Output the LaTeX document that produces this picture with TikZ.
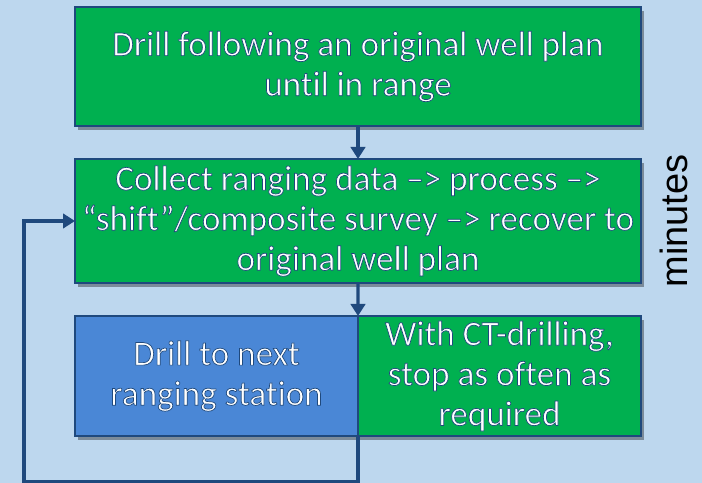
\documentclass[tikz,border=0pt]{standalone}
\usepackage{fontspec}
\setmainfont{Carlito}[Ligatures={NoCommon}]
\newfontfamily\minfont{Liberation Sans}
\usetikzlibrary{arrows.meta, shadows}

\definecolor{bgblue}{HTML}{BDD7EE}
\definecolor{boxgreen}{HTML}{00B050}
\definecolor{boxblue}{HTML}{4A87D6}
\definecolor{edgeblue}{HTML}{1F497D}

% white letters with a thin dark blue outline
\newcommand{\olt}[1]{\special{pdf:code 2 Tr 0.5 w 0.122 0.286 0.490 RG}#1\special{pdf:code 0 Tr}}

\tikzset{
    stage/.style={draw=edgeblue, line width=1.4pt, text=white, align=center,
        font=\fontsize{25}{28.5}\selectfont, inner sep=0pt, outer sep=0pt,
        drop shadow={shadow xshift=0.08cm, shadow yshift=-0.1cm, opacity=0.35, fill=black}},
    flow/.style={draw=edgeblue, line width=2.2pt, -{Triangle[length=3mm,width=3.6mm]}}
}

\begin{document}
\begin{tikzpicture}
    % Background
    \fill[bgblue] (0,0) rectangle (17.55,12.075);
    \useasboundingbox (0,0) rectangle (17.55,12.075);

    % Boxes
    \node[stage, fill=boxgreen, minimum width=14.15cm, minimum height=2.975cm] (drill) at (8.95,10.4125)
        {\olt{Drill following an original well plan\\ until in range}};
    \node[stage, fill=boxgreen, minimum width=14.15cm, minimum height=3.1cm] (collect) at (8.95,6.55)
        {\olt{Collect ranging data –> process –>\\ “shift”/composite survey –> recover to\\ original well plan}};
    \node[stage, fill=boxblue, minimum width=7.075cm, minimum height=3cm] (next) at (5.4125,2.675)
        {\olt{Drill to next\\ ranging station}};
    \node[stage, fill=boxgreen, minimum width=7.075cm, minimum height=3cm] (ct) at (12.4875,2.675)
        {\olt{With CT-drilling,\\ stop as often as\\ required}};

    % Side label
    \node[rotate=90, font=\minfont\fontsize{27}{30}\selectfont] (minutes) at (16.85,6.55) {minutes};

    % Arrows
    \coordinate (loop) at (0.6,0.0375);
    \draw[flow] (drill.south) -- (collect.north);
    \draw[flow] (collect.south) -- (next.north east);
    \draw[flow] (next.south east) |- (loop) |- (collect.west);
\end{tikzpicture}
\end{document}
